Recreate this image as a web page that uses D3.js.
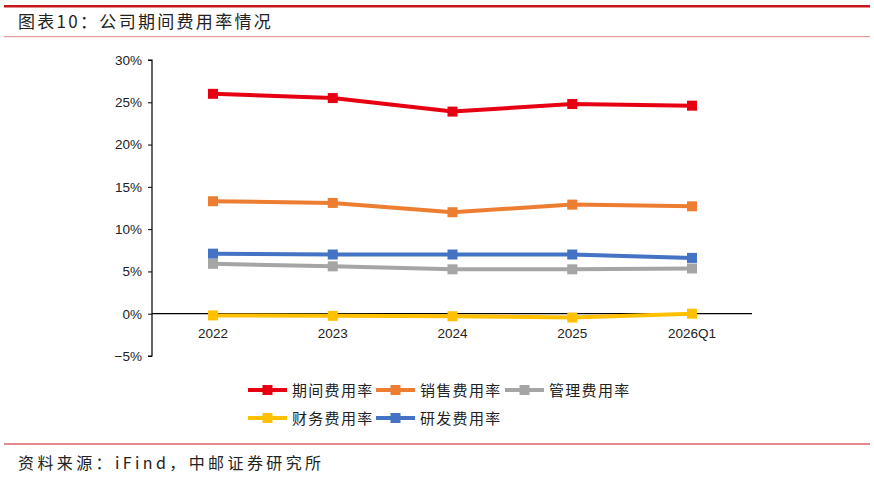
<!DOCTYPE html>
<html><head><meta charset="utf-8">
<script src="https://cdn.jsdelivr.net/npm/d3@7"></script>
<style>body{margin:0;background:#fff}svg{display:block}</style>
</head><body>
<script>
const categories = ["2022","2023","2024","2025","2026Q1"];
const seriesNames = ["期间费用率","销售费用率","管理费用率","财务费用率","研发费用率"];
const periodRate = [26.0, 25.5, 23.9, 24.8, 24.6];
const salesRate = [13.3, 13.1, 12.0, 12.9, 12.7];
const adminRate = [5.9, 5.6, 5.25, 5.25, 5.35];
const financeRate = [-0.2, -0.25, -0.3, -0.45, 0.0];
const rdRate = [7.1, 7.0, 7.0, 7.0, 6.6];
const yTicks = [-5, 0, 5, 10, 15, 20, 25, 30];
const colors = ["#E60012", "#ED7D31", "#A5A5A5", "#FFC000", "#4472C4"];
const seriesValues = [periodRate, salesRate, adminRate, financeRate, rdRate];

const W = 874, H = 478;
const svg = d3.select("body").append("svg").attr("width", W).attr("height", H);
const cjk = "'Noto Sans CJK SC', 'Noto Sans', sans-serif";

// header lines
svg.append("rect").attr("x", 4).attr("y", 5).attr("width", 866).attr("height", 2.5).attr("fill", "#C8161D");
svg.append("text").attr("x", 18).attr("y", 28).attr("font-family", cjk).attr("font-size", 17)
  .attr("letter-spacing", 2.3).attr("fill", "#222")
  .text("图表10：公司期间费用率情况");
svg.append("rect").attr("x", 4).attr("y", 36).attr("width", 866).attr("height", 1.2).attr("fill", "#E59A9C");
svg.append("rect").attr("x", 4).attr("y", 443.5).attr("width", 866).attr("height", 1).attr("fill", "#C8161D");
svg.append("text").attr("x", 18).attr("y", 469).attr("font-family", cjk).attr("font-size", 16)
  .attr("letter-spacing", 3.4).attr("fill", "#222")
  .text("资料来源：iFind，中邮证券研究所");

const x = d3.scalePoint().domain(categories).range([213, 692]);
const y = d3.scaleLinear().domain([-5, 30]).range([356, 60]);
const x0 = 152, x1 = 752;

// y axis
const yAxis = d3.axisLeft(y).tickValues(yTicks).tickSize(4).tickFormat(d => (d < 0 ? "\u2212" + Math.abs(d) : d) + "%");
const gy = svg.append("g").attr("transform", `translate(${x0},0)`).call(yAxis);
gy.select(".domain").attr("stroke", "#000").attr("stroke-width", 1.2).attr("d", `M-4,${y(30)}H0V${y(-5)}H-4`);
gy.selectAll(".tick line").attr("stroke", "#000");
gy.selectAll(".tick text").attr("font-family", "'Liberation Sans', Arial, sans-serif").attr("font-size", 13.5).attr("fill", "#222").attr("x", -10);

// zero line
svg.append("line").attr("x1", x0).attr("x2", x1).attr("y1", y(0)).attr("y2", y(0)).attr("stroke", "#000").attr("stroke-width", 1.2);
// x labels
svg.append("g").selectAll("text").data(categories).join("text")
  .attr("x", d => x(d)).attr("y", 338).attr("text-anchor", "middle")
  .attr("font-family", "'Liberation Sans', Arial, sans-serif").attr("font-size", 13.5).attr("fill", "#222").text(d => d);

const line = d3.line().x((d, i) => x(categories[i])).y(d => y(d));
seriesValues.forEach((vals, k) => {
  const g = svg.append("g");
  g.append("path").attr("d", line(vals)).attr("fill", "none").attr("stroke", colors[k]).attr("stroke-width", 4).attr("stroke-linejoin", "round");
  g.selectAll("rect").data(vals).join("rect")
    .attr("x", (d, i) => x(categories[i]) - 5).attr("y", d => y(d) - 5)
    .attr("width", 10).attr("height", 10).attr("fill", colors[k]);
});

// legend
const legPos = [[248, 390], [376, 390], [505, 390], [248, 418], [376, 418]];
seriesNames.forEach((name, k) => {
  const [lx, ly] = legPos[k];
  const g = svg.append("g");
  g.append("line").attr("x1", lx).attr("x2", lx + 39).attr("y1", ly).attr("y2", ly).attr("stroke", colors[k]).attr("stroke-width", 4);
  g.append("rect").attr("x", lx + 14.5).attr("y", ly - 5).attr("width", 10).attr("height", 10).attr("fill", colors[k]);
  g.append("text").attr("x", lx + 44).attr("y", ly + 5.5).attr("font-family", cjk).attr("font-size", 15)
    .attr("letter-spacing", 1.3).attr("fill", "#222").text(name);
});
</script>
</body></html>
